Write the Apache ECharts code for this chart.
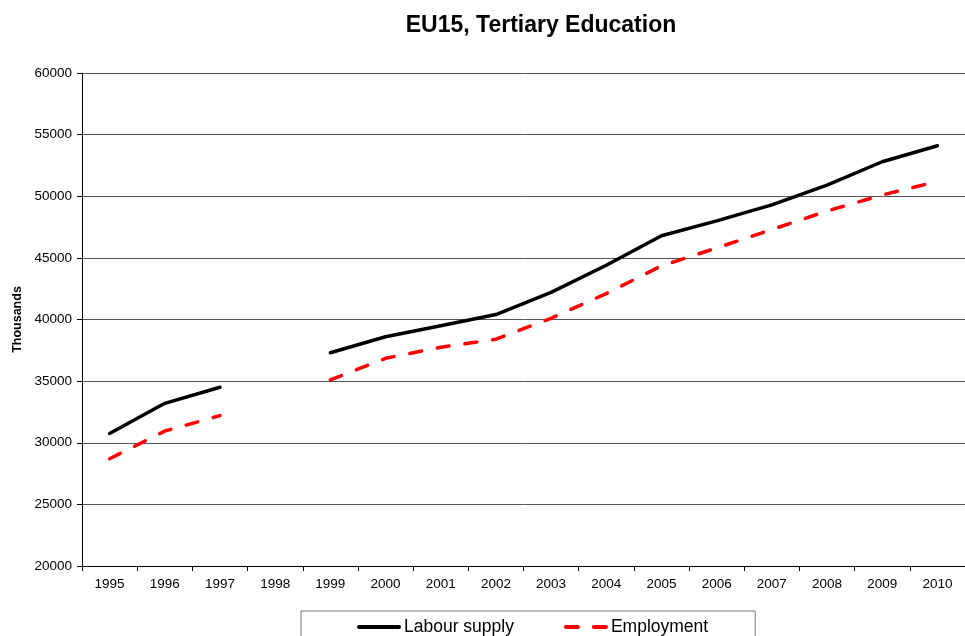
<!DOCTYPE html>
<html>
<head>
  <meta charset="utf-8">
  <script src="https://cdn.jsdelivr.net/npm/echarts@6/dist/echarts.min.js"></script>
  <style>
    html, body { margin: 0; padding: 0; background: #fff; }
    #main { width: 965px; height: 636px; }
  </style>
  <title>EU15, Tertiary Education</title>
  <script type="text/javascript">
    // years on the x axis
    const years = ['1995','1996','1997','1998','1999','2000','2001','2002',
                   '2003','2004','2005','2006','2007','2008','2009','2010'];
    // thousands (1998 missing)
    const labourSupply = [30750, 33200, 34500, null, 37300, 38600, 39500, 40400,
                          42200, 44400, 46800, 48000, 49300, 50900, 52800, 54100];
    const employment = [28700, 30950, 32200, null, 35100, 36850, 37750, 38400,
                        40100, 42100, 44350, 45800, 47300, 48800, 50100, 51200];
    const yTicks = { min: 20000, max: 60000, step: 5000 };

    function init() {
      const chart = echarts.init(document.getElementById('main'));
      const font = 'Liberation Sans, Arial, sans-serif';
      const option = {
        animation: false,
        textStyle: { fontFamily: font },
        title: {
          text: 'EU15, Tertiary Education',
          left: 536,
          top: 9,
          textAlign: 'center',
          textStyle: { fontSize: 23, fontWeight: 'bold', color: '#000', fontFamily: font }
        },
        grid: { left: 82, right: 0, top: 73, bottom: 70, containLabel: false },
        legend: {
          left: 301,
          top: 611,
          padding: [7, 47, 12, 56],
          itemGap: 50,
          itemWidth: 40,
          itemHeight: 12,
          borderColor: '#777',
          borderWidth: 1,
          itemStyle: { opacity: 0 },
          lineStyle: { width: 4 },
          textStyle: { fontSize: 17.5, color: '#000', fontFamily: font },
          data: ['Labour supply', 'Employment']
        },
        xAxis: {
          type: 'category',
          data: years,
          boundaryGap: true,
          axisLine: { lineStyle: { color: '#000', width: 1 } },
          axisTick: { show: true, length: 5, alignWithLabel: false, lineStyle: { color: '#000' } },
          axisLabel: { color: '#000', fontSize: 13.5, margin: 11, fontFamily: font, interval: 0 },
          splitLine: { show: false }
        },
        yAxis: {
          type: 'value',
          min: yTicks.min,
          max: yTicks.max,
          interval: yTicks.step,
          name: 'Thousands',
          nameLocation: 'middle',
          nameGap: 58,
          nameTextStyle: { fontSize: 12.5, fontWeight: 'bold', color: '#000', fontFamily: font },
          axisLine: { show: true, lineStyle: { color: '#000', width: 1 } },
          axisTick: { show: true, length: 5, lineStyle: { color: '#000' } },
          axisLabel: {
            color: '#000', fontSize: 13.5, margin: 10, fontFamily: font,
            formatter: function (v) { return String(v); }
          },
          splitLine: { show: true, lineStyle: { color: '#555', width: 1 } }
        },
        series: [
          {
            name: 'Labour supply',
            type: 'line',
            data: labourSupply,
            connectNulls: false,
            symbol: 'none',
            color: '#000',
            lineStyle: { color: '#000', width: 3.5, cap: 'round' }
          },
          {
            name: 'Employment',
            type: 'line',
            data: employment,
            connectNulls: false,
            symbol: 'none',
            color: '#ff0000',
            lineStyle: { color: '#ff0000', width: 3.5, type: [12, 16], cap: 'round' }
          }
        ]
      };
      chart.setOption(option);
    }
  </script>
</head>
<body onload="init()">
  <div id="main"></div>
</body>
</html>
